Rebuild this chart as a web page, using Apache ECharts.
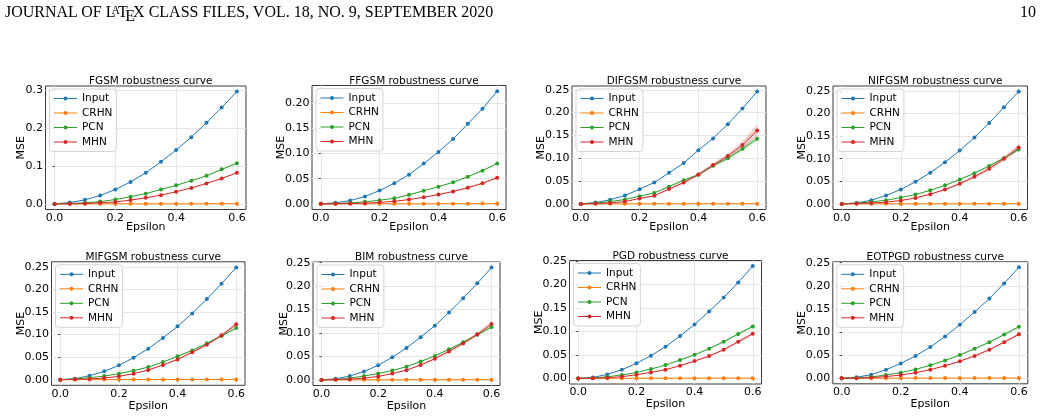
<!DOCTYPE html>
<html>
<head>
<meta charset="utf-8">
<script src="https://cdn.jsdelivr.net/npm/echarts@6/dist/echarts.min.js"></script>
<style>
  body { margin: 0; background: #fff; }
  #chart { position: absolute; left: 0; top: 0; width: 1041px; height: 417px; }
  .header {
    position: absolute; top: 3px; left: 5px; right: 5px;
    font-family: 'Liberation Serif', serif; font-size: 16px; color: #000;
    display: flex; justify-content: space-between; z-index: 2;
  }
  .la-a { font-size: 0.72em; vertical-align: 0.24em; margin-left: -0.36em; margin-right: -0.15em; }
  .la-e { position: relative; top: 0.22em; margin-left: -0.16em; margin-right: -0.12em; }
</style>
</head>
<body>
<div id="chart"></div>
<div class="header">
  <span>JOURNAL OF L<span class="la-a">A</span>T<span class="la-e">E</span>X CLASS FILES, VOL. 18, NO. 9, SEPTEMBER 2020</span>
  <span>10</span>
</div>
<script>
const epsilons = [0, 0.05, 0.1, 0.15, 0.2, 0.25, 0.3, 0.35, 0.4, 0.45, 0.5, 0.55, 0.6]
const seriesNames = ['Input', 'CRHN', 'PCN', 'MHN']
const colors = ['#1f77b4', '#ff7f0e', '#2ca02c', '#d62728']
const xTicks = [0, 0.2, 0.4, 0.6]

// FGSM
const fgsmInput = [0, 0.0035, 0.0106, 0.022, 0.038, 0.058, 0.082, 0.111, 0.142, 0.176, 0.214, 0.254, 0.296]
const fgsmCrhn = [0, 0.0001, 0.0002, 0.0002, 0.0003, 0.0003, 0.0003, 0.0004, 0.0004, 0.0004, 0.0005, 0.0005, 0.0005]
const fgsmPcn = [0, 0.001, 0.003, 0.006, 0.0115, 0.019, 0.027, 0.038, 0.049, 0.061, 0.074, 0.091, 0.107]
const fgsmMhn = [0, 0.0003, 0.001, 0.003, 0.005, 0.01, 0.016, 0.023, 0.032, 0.042, 0.054, 0.067, 0.082]
const fgsmPcnStd = [0, 0, 0.0001, 0.0002, 0.0003, 0.0004, 0.0006, 0.0008, 0.001, 0.0012, 0.0014, 0.0017, 0.002]
const fgsmMhnStd = [0, 0, 0.0001, 0.0001, 0.0002, 0.0003, 0.0004, 0.0006, 0.0008, 0.001, 0.0012, 0.0014, 0.0016]

// FFGSM
const ffgsmInput = [0, 0.002, 0.0066, 0.0146, 0.0265, 0.041, 0.058, 0.08, 0.103, 0.129, 0.159, 0.189, 0.224]
const ffgsmCrhn = [0, 0.0001, 0.0001, 0.0002, 0.0002, 0.0003, 0.0003, 0.0003, 0.0004, 0.0004, 0.0004, 0.0005, 0.0005]
const ffgsmPcn = [0, 0.0007, 0.002, 0.004, 0.0073, 0.011, 0.018, 0.026, 0.034, 0.043, 0.054, 0.066, 0.08]
const ffgsmMhn = [0, 0.0002, 0.0007, 0.0013, 0.003, 0.005, 0.0086, 0.013, 0.0185, 0.0245, 0.032, 0.041, 0.052]
const ffgsmPcnStd = [0, 0, 0.0001, 0.0001, 0.0002, 0.0003, 0.0004, 0.0005, 0.0006, 0.0008, 0.001, 0.0012, 0.0015]
const ffgsmMhnStd = [0, 0, 0.0001, 0.0001, 0.0002, 0.0003, 0.0004, 0.0006, 0.0008, 0.001, 0.0013, 0.0016, 0.002]

// DIFGSM
const difgsmInput = [0, 0.003, 0.009, 0.0185, 0.032, 0.047, 0.068, 0.0895, 0.1176, 0.1435, 0.1746, 0.209, 0.246]
const difgsmCrhn = [0, 0.0001, 0.0002, 0.0002, 0.0003, 0.0003, 0.0003, 0.0004, 0.0004, 0.0004, 0.0005, 0.0005, 0.0005]
const difgsmPcn = [0, 0.0015, 0.005, 0.0096, 0.017, 0.024, 0.0377, 0.052, 0.0636, 0.0836, 0.0998, 0.1206, 0.1427]
const difgsmMhn = [0, 0.0007, 0.002, 0.005, 0.012, 0.0178, 0.0325, 0.0466, 0.0643, 0.085, 0.105, 0.129, 0.161]
const difgsmPcnStd = [0, 0, 0.0002, 0.0004, 0.0008, 0.001, 0.0015, 0.002, 0.0025, 0.003, 0.004, 0.005, 0.006]
const difgsmMhnStd = [0, 0, 0.0002, 0.0005, 0.001, 0.0015, 0.002, 0.0028, 0.0035, 0.0045, 0.006, 0.009, 0.013]

// NIFGSM
const nifgsmInput = [0, 0.0022, 0.008, 0.0185, 0.032, 0.049, 0.069, 0.092, 0.118, 0.147, 0.179, 0.214, 0.2485]
const nifgsmCrhn = [0, 0.0001, 0.0002, 0.0002, 0.0003, 0.0003, 0.0003, 0.0004, 0.0004, 0.0004, 0.0005, 0.0005, 0.0005]
const nifgsmPcn = [0, 0.0015, 0.0044, 0.008, 0.014, 0.0207, 0.03, 0.041, 0.054, 0.068, 0.084, 0.101, 0.1206]
const nifgsmMhn = [0, 0.0007, 0.002, 0.0037, 0.0074, 0.0133, 0.0214, 0.0318, 0.0444, 0.06, 0.0777, 0.0999, 0.125]
const nifgsmPcnStd = [0, 0, 0.0001, 0.0002, 0.0004, 0.0006, 0.0009, 0.0012, 0.0016, 0.002, 0.0025, 0.003, 0.0035]
const nifgsmMhnStd = [0, 0, 0.0002, 0.0003, 0.0005, 0.0008, 0.0012, 0.0018, 0.0025, 0.0033, 0.0042, 0.0055, 0.007]

// MIFGSM
const mifgsmInput = [0, 0.0022, 0.0089, 0.0185, 0.0318, 0.0488, 0.0688, 0.0925, 0.1183, 0.147, 0.179, 0.213, 0.249]
const mifgsmCrhn = [0, 0.0001, 0.0002, 0.0002, 0.0003, 0.0003, 0.0003, 0.0004, 0.0004, 0.0004, 0.0005, 0.0005, 0.0005]
const mifgsmPcn = [0, 0.0015, 0.0044, 0.008, 0.0133, 0.02, 0.028, 0.039, 0.0518, 0.065, 0.0806, 0.097, 0.1146]
const mifgsmMhn = [0, 0.0007, 0.0015, 0.0037, 0.0074, 0.0133, 0.0214, 0.0325, 0.045, 0.0606, 0.0777, 0.0984, 0.1228]
const mifgsmPcnStd = [0, 0, 0.0001, 0.0002, 0.0003, 0.0005, 0.0007, 0.001, 0.0013, 0.0017, 0.0021, 0.0026, 0.003]
const mifgsmMhnStd = [0, 0, 0.0001, 0.0002, 0.0004, 0.0006, 0.0009, 0.0013, 0.0017, 0.0022, 0.0028, 0.0034, 0.004]

// BIM
const bimInput = [0, 0.0022, 0.0082, 0.0178, 0.0312, 0.0482, 0.0682, 0.0912, 0.1157, 0.1439, 0.1743, 0.2062, 0.2396]
const bimCrhn = [0, 0.0001, 0.0002, 0.0002, 0.0003, 0.0003, 0.0003, 0.0004, 0.0004, 0.0004, 0.0005, 0.0005, 0.0005]
const bimPcn = [0, 0.0007, 0.0037, 0.0082, 0.0134, 0.02, 0.0282, 0.0393, 0.0512, 0.0653, 0.0801, 0.0964, 0.1128]
const bimMhn = [0, 0.0007, 0.0015, 0.0037, 0.0074, 0.0134, 0.0208, 0.0319, 0.0453, 0.0608, 0.0779, 0.0972, 0.1194]
const bimPcnStd = [0, 0, 0.0001, 0.0002, 0.0003, 0.0005, 0.0007, 0.001, 0.0013, 0.0017, 0.0021, 0.0026, 0.003]
const bimMhnStd = [0, 0, 0.0001, 0.0002, 0.0004, 0.0007, 0.001, 0.0015, 0.002, 0.0026, 0.0033, 0.0042, 0.005]

// PGD
const pgdInput = [0, 0.0021, 0.0085, 0.0185, 0.032, 0.0483, 0.0675, 0.0902, 0.115, 0.1428, 0.1726, 0.2045, 0.2393]
const pgdCrhn = [0, 0.0001, 0.0002, 0.0002, 0.0003, 0.0003, 0.0003, 0.0004, 0.0004, 0.0004, 0.0005, 0.0005, 0.0005]
const pgdPcn = [0, 0.0007, 0.0036, 0.0071, 0.0128, 0.0199, 0.0284, 0.039, 0.0504, 0.0632, 0.0781, 0.0945, 0.1108]
const pgdMhn = [0, 0.0002, 0.0014, 0.0036, 0.0078, 0.0128, 0.0185, 0.027, 0.0369, 0.0476, 0.0611, 0.0781, 0.0952]
const pgdPcnStd = [0, 0, 0.0001, 0.0002, 0.0003, 0.0005, 0.0007, 0.001, 0.0013, 0.0017, 0.0021, 0.0026, 0.003]
const pgdMhnStd = [0, 0, 0.0001, 0.0002, 0.0003, 0.0005, 0.0007, 0.001, 0.0013, 0.0017, 0.0021, 0.0026, 0.003]

// EOTPGD
const eotpgdInput = [0, 0.0021, 0.0078, 0.0185, 0.032, 0.0483, 0.0675, 0.0902, 0.1158, 0.1435, 0.1726, 0.2053, 0.24]
const eotpgdCrhn = [0, 0.0001, 0.0002, 0.0002, 0.0003, 0.0003, 0.0003, 0.0004, 0.0004, 0.0004, 0.0005, 0.0005, 0.0005]
const eotpgdPcn = [0, 0.0007, 0.0028, 0.0071, 0.0121, 0.0192, 0.0284, 0.0384, 0.0504, 0.0639, 0.0781, 0.0945, 0.1115]
const eotpgdMhn = [0, 0.0002, 0.0014, 0.0036, 0.0071, 0.0121, 0.0185, 0.027, 0.0369, 0.0483, 0.0618, 0.0781, 0.0952]
const eotpgdPcnStd = [0, 0, 0.0001, 0.0002, 0.0003, 0.0005, 0.0007, 0.001, 0.0013, 0.0017, 0.0021, 0.0026, 0.003]
const eotpgdMhnStd = [0, 0, 0.0001, 0.0002, 0.0003, 0.0005, 0.0007, 0.001, 0.0013, 0.0017, 0.0021, 0.0026, 0.003]

const ticksFine = [0, 0.05, 0.1, 0.15, 0.2, 0.25]

const panels = [
  { title: 'FGSM', lines: [fgsmInput, fgsmCrhn, fgsmPcn, fgsmMhn], pcnStd: fgsmPcnStd, mhnStd: fgsmMhnStd, yTicks: [0, 0.1, 0.2, 0.3], dec: 1 },
  { title: 'FFGSM', lines: [ffgsmInput, ffgsmCrhn, ffgsmPcn, ffgsmMhn], pcnStd: ffgsmPcnStd, mhnStd: ffgsmMhnStd, yTicks: [0, 0.05, 0.1, 0.15, 0.2], dec: 2 },
  { title: 'DIFGSM', lines: [difgsmInput, difgsmCrhn, difgsmPcn, difgsmMhn], pcnStd: difgsmPcnStd, mhnStd: difgsmMhnStd, yTicks: ticksFine, dec: 2 },
  { title: 'NIFGSM', lines: [nifgsmInput, nifgsmCrhn, nifgsmPcn, nifgsmMhn], pcnStd: nifgsmPcnStd, mhnStd: nifgsmMhnStd, yTicks: ticksFine, dec: 2 },
  { title: 'MIFGSM', lines: [mifgsmInput, mifgsmCrhn, mifgsmPcn, mifgsmMhn], pcnStd: mifgsmPcnStd, mhnStd: mifgsmMhnStd, yTicks: ticksFine, dec: 2 },
  { title: 'BIM', lines: [bimInput, bimCrhn, bimPcn, bimMhn], pcnStd: bimPcnStd, mhnStd: bimMhnStd, yTicks: ticksFine, dec: 2 },
  { title: 'PGD', lines: [pgdInput, pgdCrhn, pgdPcn, pgdMhn], pcnStd: pgdPcnStd, mhnStd: pgdMhnStd, yTicks: ticksFine, dec: 2 },
  { title: 'EOTPGD', lines: [eotpgdInput, eotpgdCrhn, eotpgdPcn, eotpgdMhn], pcnStd: eotpgdPcnStd, mhnStd: eotpgdMhnStd, yTicks: ticksFine, dec: 2 }
]

// [left, top, width, height, yNameGap, xNameGap]
const layout = [
  [45.5, 86, 200.5, 123.5, 19, 12],
  [312, 85.5, 194, 124, 25, 12],
  [572, 86, 194, 123.5, 25, 12],
  [833, 86, 194.5, 123.5, 25.5, 12],
  [51.5, 261.8, 193.5, 123.5, 25, 15],
  [313, 262, 187, 123.5, 23, 15],
  [569.5, 260.5, 192, 123.5, 25, 15],
  [832.8, 261.8, 195, 122, 25.5, 15]
]

const chart = echarts.init(document.getElementById('chart'))
const font = 'DejaVu Sans'

const grid = [], xAxis = [], yAxis = [], title = [], legend = [], series = []

function bandSeries(i, mean, std, color) {
  return {
    name: 'band', type: 'custom', xAxisIndex: i, yAxisIndex: i, silent: true, z: 1,
    data: epsilons.map((x, k) => [x, mean[k] - std[k], mean[k] + std[k]]),
    encode: { x: 0, y: [1, 2] },
    renderItem(params, api) {
      if (params.dataIndex !== 0) return
      const upper = epsilons.map((x, k) => api.coord([x, mean[k] + std[k]]))
      const lower = epsilons.map((x, k) => api.coord([x, mean[k] - std[k]])).reverse()
      return {
        type: 'polygon',
        shape: { points: upper.concat(lower) },
        style: { fill: color, opacity: 0.2 }
      }
    }
  }
}

panels.forEach((p, i) => {
  const [left, top, width, height, yGap, xGap] = layout[i]
  let maxVal = 0
  p.lines.forEach(arr => arr.forEach(v => { maxVal = Math.max(maxVal, v) }))
  p.lines[2].forEach((v, k) => { maxVal = Math.max(maxVal, v + p.pcnStd[k]) })
  p.lines[3].forEach((v, k) => { maxVal = Math.max(maxVal, v + p.mhnStd[k]) })

  grid.push({ left, top, width, height, show: true, borderColor: '#3a3a3a', borderWidth: 1, backgroundColor: 'transparent' })

  xAxis.push({
    type: 'value', gridIndex: i, min: -0.03, max: 0.63,
    name: 'Epsilon', nameLocation: 'middle', nameGap: xGap, nameMoveOverlap: false,
    nameTextStyle: { fontFamily: font, fontSize: 11, color: '#000' },
    axisLine: { show: false },
    axisTick: { show: true, length: 2, customValues: xTicks, lineStyle: { color: '#3a3a3a' } },
    axisLabel: { customValues: xTicks, margin: 3, fontFamily: font, fontSize: 11, color: '#000', formatter: v => v.toFixed(1) },
    splitLine: { show: false }
  })

  yAxis.push({
    type: 'value', gridIndex: i, min: -0.05 * maxVal, max: 1.05 * maxVal,
    name: 'MSE', nameLocation: 'middle', nameGap: yGap, nameMoveOverlap: false,
    nameTextStyle: { fontFamily: font, fontSize: 11, color: '#000' },
    axisLine: { show: false },
    axisTick: { show: true, length: 2, customValues: p.yTicks, lineStyle: { color: '#3a3a3a' } },
    axisLabel: { customValues: p.yTicks, margin: 2.5, fontFamily: font, fontSize: 11, color: '#000', formatter: v => v.toFixed(p.dec) },
    splitLine: { show: false }
  })

  title.push({
    text: p.title + ' robustness curve',
    left: left + width / 2, top: top - 15, textAlign: 'center',
    textStyle: { fontFamily: font, fontSize: 10.5, fontWeight: 'normal', color: '#000' }
  })

  legend.push({
    data: seriesNames, orient: 'vertical', left: left + 4, top: top + 3,
    itemWidth: 23, itemHeight: 5, itemGap: 3.5,
    padding: [4, 4, 4, 4],
    backgroundColor: 'rgba(255,255,255,0.8)', borderColor: '#d4d4d4', borderWidth: 1, borderRadius: 3,
    lineStyle: { width: 1 },
    textStyle: { fontFamily: font, fontSize: 10.5, color: '#000' },
    selectedMode: false
  })

  // grid lines only at the labelled ticks
  series.push({
    name: 'grid', type: 'line', xAxisIndex: i, yAxisIndex: i, data: [], silent: true, z: 0,
    markLine: {
      silent: true, symbol: 'none', animation: false, z: 0,
      label: { show: false },
      emphasis: { disabled: true },
      lineStyle: { color: '#e6e6e6', width: 1, type: 'solid' },
      data: xTicks.map(v => ({ xAxis: v })).concat(p.yTicks.map(v => ({ yAxis: v })))
    }
  })

  series.push(bandSeries(i, p.lines[2], p.pcnStd, colors[2]))
  series.push(bandSeries(i, p.lines[3], p.mhnStd, colors[3]))

  p.lines.forEach((arr, s) => {
    series.push({
      name: seriesNames[s], type: 'line', xAxisIndex: i, yAxisIndex: i,
      symbol: 'circle', symbolSize: 4, z: 2 + s,
      itemStyle: { color: colors[s] },
      lineStyle: { color: colors[s], width: 1 },
      data: epsilons.map((x, k) => [x, arr[k]])
    })
  })
})

chart.setOption({
  animation: false,
  backgroundColor: '#fff',
  grid, xAxis, yAxis, title, legend, series
})
</script>
</body>
</html>
